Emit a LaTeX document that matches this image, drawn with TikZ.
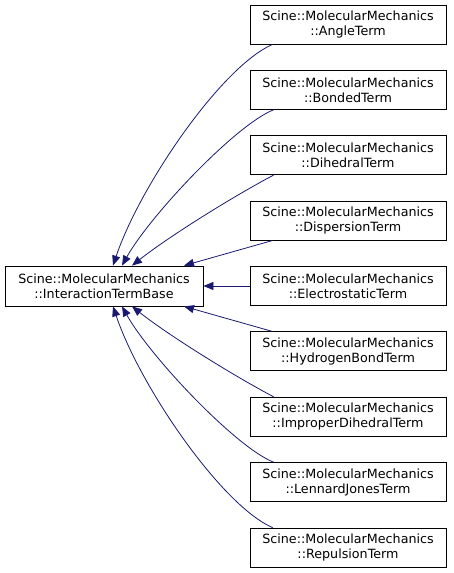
\documentclass[tikz,border=0pt]{standalone}
\usepackage{fontspec}
\setmainfont{DejaVu Sans}
\usepackage{tikz}
\usepackage{xcolor}
\usetikzlibrary{arrows.meta}
\definecolor{dxnavy}{HTML}{191970}
\tikzset{
  cls/.style      = {draw=black, fill=white, line width=0.8pt, align=center,
                     font=\fontsize{12.7}{15}\selectfont, text=black,
                     inner sep=0pt, minimum width=196pt, minimum height=39pt},
  basecls/.style  = {cls, minimum width=198pt, minimum height=40pt},
  %
  inherit/.style  = {-{Triangle[length=10pt,width=8pt]}, draw=dxnavy,
                     line width=0.8pt},
}
\begin{document}
\begin{tikzpicture}[x=1pt,y=1pt]
  \useasboundingbox (0,0) rectangle (453,573);

  % ---------- base class ----------------------------------------------
  \node[basecls] (base) at (104, 287)
    {Scine::MolecularMechanics\\ ::InteractionTermBase};

  % ---------- derived classes (column x = 348) ------------------------
  \node[cls] (angle)     at (348, 548.5) {Scine::MolecularMechanics\\ ::AngleTerm};
  \node[cls] (bonded)    at (348, 483.1) {Scine::MolecularMechanics\\ ::BondedTerm};
  \node[cls] (dihedral)  at (348, 417.8) {Scine::MolecularMechanics\\ ::DihedralTerm};
  \node[cls] (dispers)   at (348, 352.4) {Scine::MolecularMechanics\\ ::DispersionTerm};
  \node[cls] (electro)   at (348, 287.0) {Scine::MolecularMechanics\\ ::ElectrostaticTerm};
  \node[cls] (hbond)     at (348, 221.6) {Scine::MolecularMechanics\\ ::HydrogenBondTerm};
  \node[cls] (improper)  at (348, 156.3) {Scine::MolecularMechanics\\ ::ImproperDihedralTerm};
  \node[cls] (ljones)    at (348,  90.9) {Scine::MolecularMechanics\\ ::LennardJonesTerm};
  \node[cls] (repulsion) at (348,  25.5) {Scine::MolecularMechanics\\ ::RepulsionTerm};

  % ---------- inheritance: upper half ---------------------------------
  \draw[inherit] ([xshift=23pt]angle.south west)
    .. controls +(-51,-22) and +(27,80) .. ([xshift=9pt]base.north);
  \draw[inherit] ([xshift=24pt]bonded.south west)
    .. controls +(-38,-15) and +(28,50) .. ([xshift=18pt]base.north);
  \draw[inherit] ([xshift=24pt]dihedral.south west)
    .. controls +(-38,-20) and +(38,30) .. ([xshift=28pt]base.north);
  \draw[inherit] ([xshift=23pt]dispers.south west) -- ([xshift=80pt]base.north);

  % ---------- inheritance: middle -------------------------------------
  \draw[inherit] (electro.west) -- (base.east);

  % ---------- inheritance: lower half ---------------------------------
  \draw[inherit] ([xshift=23pt]hbond.north west) -- ([xshift=80pt]base.south);
  \draw[inherit] ([xshift=24pt]improper.north west)
    .. controls +(-38,20) and +(38,-30) .. ([xshift=28pt]base.south);
  \draw[inherit] ([xshift=24pt]ljones.north west)
    .. controls +(-38,15) and +(28,-50) .. ([xshift=18pt]base.south);
  \draw[inherit] ([xshift=23pt]repulsion.north west)
    .. controls +(-51,22) and +(27,-80) .. ([xshift=9pt]base.south);

\end{tikzpicture}
\end{document}
